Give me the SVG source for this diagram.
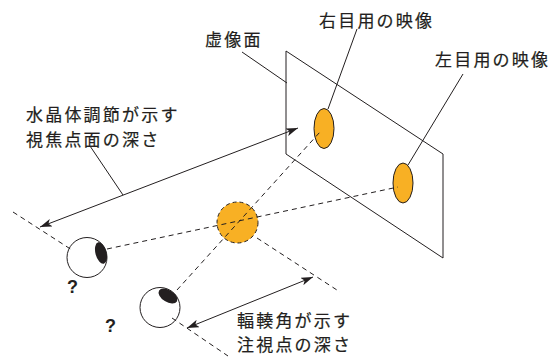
<svg xmlns="http://www.w3.org/2000/svg" width="555" height="358" viewBox="0 0 555 358">
  <style>
    .lbl { font-family: "Noto Sans CJK JP", "Noto Sans", sans-serif; font-size: 17px; letter-spacing: 2.2px; fill: #231f20; stroke: #231f20; stroke-width: 0.2px; }
    .q { font-family: "Liberation Sans", Arial, sans-serif; font-size: 18px; font-weight: bold; fill: #231f20; }
    .ln { fill: none; stroke: #231f20; stroke-width: 1; }
    .dash { fill: none; stroke: #231f20; stroke-width: 1; stroke-dasharray: 5 4; }
    .img { fill: #f8b024; stroke: #231f20; stroke-width: 1; }
    .eye { fill: #ffffff; stroke: #231f20; stroke-width: 1; }
    .pupil { fill: #231f20; }
    .dim { fill: none; stroke: #231f20; stroke-width: 1; marker-start: url(#arrS); marker-end: url(#arrE); }
  </style>
  <defs>
    <marker id="arrE" viewBox="0 0 12 8" refX="12" refY="4" markerWidth="12" markerHeight="8" markerUnits="userSpaceOnUse" orient="auto">
      <path d="M0,0 L12,4 L0,8 L3,4 z" fill="#231f20"/>
    </marker>
    <marker id="arrS" viewBox="0 0 12 8" refX="0" refY="4" markerWidth="12" markerHeight="8" markerUnits="userSpaceOnUse" orient="auto">
      <path d="M12,0 L0,4 L12,8 L9,4 z" fill="#231f20"/>
    </marker>
  </defs>

  <!-- virtual image plane -->
  <g id="plane">
    <polygon class="ln" points="286,51 443,154 443,258 286,154"/>
    <text class="lbl" x="205" y="46">虚像面</text>
    <line class="ln" x1="242" y1="52" x2="287" y2="83"/>
  </g>

  <!-- image for the right eye -->
  <g id="img-right">
    <ellipse class="img" cx="324" cy="128.5" rx="10" ry="20"/>
    <text class="lbl" x="319" y="27">右目用の映像</text>
    <line class="ln" x1="357" y1="29" x2="328" y2="109"/>
  </g>

  <!-- image for the left eye -->
  <g id="img-left">
    <ellipse class="img" cx="403" cy="183" rx="10" ry="20"/>
    <text class="lbl" x="435" y="66">左目用の映像</text>
    <line class="ln" x1="463" y1="74" x2="408" y2="165"/>
  </g>

  <!-- fused point -->
  <g id="fused-point">
    <circle cx="237.5" cy="222.5" r="20.5" fill="#f8b024" stroke="#231f20" stroke-width="1" stroke-dasharray="4 3"/>
  </g>

  <!-- eyes -->
  <g id="eye-upper">
    <circle class="eye" cx="87" cy="257.5" r="20"/>
    <ellipse class="pupil" cx="101" cy="253" rx="5.5" ry="11" transform="rotate(-15 101 253)"/>
    <text class="q" x="67" y="293">?</text>
  </g>
  <g id="eye-lower">
    <circle class="eye" cx="160" cy="307.5" r="20"/>
    <ellipse class="pupil" cx="168" cy="296" rx="10.5" ry="6" transform="rotate(32 168 296)"/>
    <text class="q" x="105" y="332">?</text>
  </g>

  <!-- labels for the two depths -->
  <g id="label-accommodation">
    <text class="lbl" x="26" y="121">水晶体調節が示す</text>
    <text class="lbl" x="26" y="146">視焦点面の深さ</text>
  </g>
  <g id="label-convergence">
    <text class="lbl" x="237" y="327">輻輳角が示す</text>
    <text class="lbl" x="237" y="351">注視点の深さ</text>
  </g>

  <!-- connectors -->
  <g id="connectors">
    <!-- lines of sight -->
    <line class="dash" x1="107" y1="249" x2="398" y2="187"/>
    <line class="dash" x1="177" y1="290" x2="320" y2="132"/>
    <!-- extension lines -->
    <line class="dash" x1="13" y1="212" x2="72" y2="250"/>
    <line class="dash" x1="172" y1="318" x2="228" y2="356"/>
    <line class="dash" x1="257" y1="238" x2="340" y2="292"/>
    <!-- depth dimensions -->
    <line class="dim" x1="40" y1="227" x2="298" y2="128"/>
    <line class="dim" x1="187" y1="328" x2="313" y2="277"/>
    <!-- leader to accommodation label -->
    <line class="ln" x1="90" y1="146" x2="123" y2="195"/>
  </g>
</svg>
